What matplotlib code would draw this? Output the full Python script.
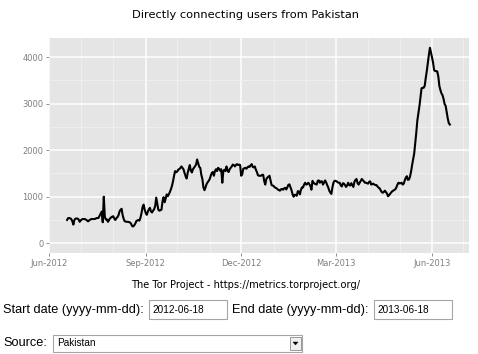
import numpy as np
import pandas as pd
import matplotlib
matplotlib.use("Agg")
import matplotlib.pyplot as plt
import matplotlib.dates as mdates
from matplotlib.patches import Rectangle, Polygon

# daily directly connecting users, 2012-06-18 .. 2013-06-18
users = [
    500, 540, 540, 535, 520, 470, 400, 500, 530, 530, 530, 510, 460, 490, 510,
    520, 520, 520, 505, 490, 470, 490, 505, 520, 520, 520, 520, 525, 540, 540,
    545, 590, 640, 680, 450, 1000, 560, 510, 510, 460, 500, 535, 555, 570, 580,
    530, 500, 540, 560, 600, 680, 720, 740, 600, 520, 470, 465, 460, 460, 455,
    445, 420, 370, 360, 385, 420, 475, 490, 500, 485, 550, 650, 780, 830, 720,
    650, 610, 680, 730, 760, 680, 660, 700, 730, 800, 980, 850, 720, 700, 710,
    720, 900, 990, 880, 960, 1050, 1010, 1050, 1100, 1160, 1230, 1330, 1450, 1550, 1525,
    1540, 1580, 1595, 1615, 1650, 1620, 1590, 1510, 1440, 1390, 1510, 1600, 1680, 1560, 1520,
    1590, 1620, 1655, 1690, 1800, 1720, 1640, 1620, 1470, 1380, 1200, 1140, 1200, 1270, 1310,
    1340, 1380, 1450, 1510, 1530, 1450, 1550, 1590, 1550, 1620, 1600, 1560, 1590, 1300, 1550,
    1580, 1550, 1650, 1560, 1530, 1590, 1620, 1650, 1690, 1680, 1650, 1680, 1700, 1680, 1690,
    1680, 1450, 1480, 1600, 1610, 1620, 1600, 1630, 1650, 1640, 1670, 1700, 1640, 1630, 1650,
    1580, 1530, 1460, 1450, 1450, 1450, 1470, 1470, 1330, 1260, 1380, 1410, 1430, 1450, 1350,
    1250, 1240, 1230, 1200, 1190, 1175, 1155, 1140, 1130, 1160, 1165, 1150, 1180, 1190, 1155,
    1200, 1255, 1265, 1200, 1140, 1050, 1000, 1040, 1040, 1020, 1120, 1110, 1050, 1150, 1200,
    1200, 1260, 1300, 1260, 1270, 1300, 1270, 1230, 1150, 1340, 1300, 1280, 1270, 1260, 1340,
    1350, 1300, 1330, 1330, 1260, 1300, 1350, 1310, 1250, 1200, 1130, 1090, 1060, 1200, 1300,
    1340, 1340, 1330, 1310, 1300, 1300, 1240, 1220, 1290, 1280, 1250, 1210, 1240, 1300, 1250,
    1240, 1290, 1250, 1210, 1320, 1360, 1380, 1290, 1260, 1300, 1340, 1380, 1355, 1330, 1300,
    1300, 1290, 1280, 1320, 1330, 1260, 1270, 1280, 1260, 1250, 1250, 1220, 1195, 1180, 1140,
    1100, 1085, 1100, 1130, 1100, 1070, 1010, 1030, 1060, 1090, 1115, 1130, 1145, 1160, 1200,
    1260, 1300, 1285, 1290, 1300, 1260, 1280, 1350, 1410, 1440, 1360, 1370, 1430, 1540, 1680,
    1800, 1930, 2150, 2380, 2640, 2800, 2950, 3150, 3330, 3340, 3340, 3380, 3550, 3700, 3880,
    4050, 4200, 4100, 3990, 3880, 3720, 3700, 3700, 3690, 3580, 3380, 3290, 3220, 3180, 3100,
    2990, 2950, 2820, 2680, 2580, 2550,
]
dates = pd.date_range("2012-06-18", periods=len(users), freq="D")

x_ticks = ["2012-06-01", "2012-09-01", "2012-12-01", "2013-03-01", "2013-06-01"]
y_ticks = [0, 1000, 2000, 3000, 4000]

title = "Directly connecting users from Pakistan"
caption = "The Tor Project - https://metrics.torproject.org/"
start_date = "2012-06-18"
end_date = "2013-06-18"
source = "Pakistan"

W, H = 478, 354
fig = plt.figure(figsize=(W / 100, H / 100), dpi=100)
fig.patch.set_facecolor("white")


def px(x0, y0, x1, y1):
    # pixel box -> figure fraction rect
    return [x0 / W, 1 - y1 / H, (x1 - x0) / W, (y1 - y0) / H]


ax = fig.add_axes(px(49, 38, 469, 253))
ax.set_facecolor("#E5E5E5")
for s in ax.spines.values():
    s.set_visible(False)

ax.plot(dates, users, color="black", lw=1.5, solid_joinstyle="round")

ax.set_xlim(pd.Timestamp("2012-05-31 18:00"), pd.Timestamp("2013-07-06 06:00"))
ax.set_ylim(-210, 4410)

ax.set_xticks(pd.to_datetime(x_ticks))
ax.xaxis.set_major_formatter(mdates.DateFormatter("%b-%Y"))
ax.xaxis.set_minor_locator(mdates.MonthLocator())
ax.set_yticks(y_ticks)
ax.set_yticks([500, 1500, 2500, 3500], minor=True)

ax.grid(True, which="major", color="white", lw=1.1)
ax.grid(True, which="minor", color="#F2F2F2", lw=0.5)
ax.set_axisbelow(True)
ax.tick_params(which="major", length=2.5, width=0.6, color="#7F7F7F",
               labelcolor="#7F7F7F", labelsize=6, pad=1.5)
ax.tick_params(which="minor", length=0)

fig.text(246 / W, 1 - 15 / H, title, ha="center", va="center", fontsize=8.2)
fig.text(246 / W, 1 - 285 / H, caption, ha="center", va="center", fontsize=7.1)

# html form below the graph
form_font = "Liberation Sans"
fig.text(3 / W, 1 - 310 / H, "Start date (yyyy-mm-dd):", ha="left", va="center",
         fontsize=9.2, family=form_font)
fig.text(232 / W, 1 - 310 / H, "End date (yyyy-mm-dd):", ha="left", va="center",
         fontsize=9.2, family=form_font)
fig.text(3 / W, 1 - 343 / H, "Source:", ha="left", va="center",
         fontsize=9.2, family=form_font)

for x0, x1, val in [(149, 227, start_date), (374, 452, end_date)]:
    fig.patches.append(Rectangle((x0 / W, 1 - 319 / H), (x1 - x0) / W, 19 / H,
                                 transform=fig.transFigure, facecolor="white",
                                 edgecolor="#A5A5A5", lw=0.8))
    fig.text((x0 + 3) / W, 1 - 310 / H, val, ha="left", va="center",
             fontsize=7.2, family=form_font)

fig.patches.append(Rectangle((53 / W, 1 - 352 / H), 249 / W, 17 / H,
                             transform=fig.transFigure, facecolor="white",
                             edgecolor="#A5A5A5", lw=0.8))
fig.text(57 / W, 1 - 343.5 / H, source, ha="left", va="center",
         fontsize=7.2, family=form_font)
fig.patches.append(Rectangle((290 / W, 1 - 350 / H), 11 / W, 13 / H,
                             transform=fig.transFigure, facecolor="#F0F0F0",
                             edgecolor="#8A8A8A", lw=0.6))
fig.patches.append(Polygon([(293 / W, 1 - 342 / H), (298 / W, 1 - 342 / H),
                            (295.5 / W, 1 - 345 / H)], closed=True,
                           transform=fig.transFigure, facecolor="black",
                           edgecolor="black", lw=0.3))

fig.savefig("out.png", dpi=100)
